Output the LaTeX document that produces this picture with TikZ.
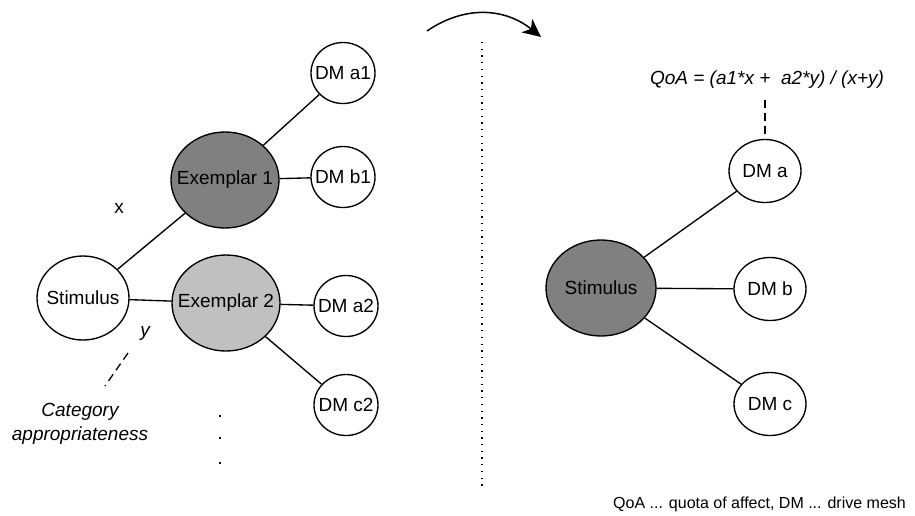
\documentclass[tikz,border=0pt]{standalone}
\usepackage{fontspec}
\setmainfont{Liberation Sans}
\usetikzlibrary{shapes.geometric,arrows.meta}

\definecolor{darkfill}{HTML}{808080}
\definecolor{lightfill}{HTML}{C0C0C0}

\tikzset{
  base/.style={font=\fontsize{19}{22}\selectfont},
  ell/.style={base, ellipse, draw=black, line width=1.35pt, fill=white, inner sep=0pt},
  dmsmall/.style={ell, minimum width=64pt, minimum height=61pt},
  dmbig/.style={ell, minimum width=72pt, minimum height=63pt},
  link/.style={line width=1.35pt},
  hint/.style={line width=1.3pt, dash pattern=on 8pt off 5pt},
  lbl/.style={base, inner sep=0pt},
  note/.style={font=\fontsize{16}{19}\selectfont, inner sep=0pt},
}

\newcommand{\ctr}[1]{\makebox[0pt]{#1}}

\begin{document}
\begin{tikzpicture}[x=1pt, y=-1pt]
  \useasboundingbox (0,0) rectangle (915,515);

  % ---------- left: stimulus and exemplars ----------
  \node[ell, minimum width=92pt, minimum height=84pt] (stimL) at (83,298) {\ctr{Stimulus}};
  \node[ell, fill=darkfill, minimum width=108pt, minimum height=96pt] (ex1) at (225,180) {\ctr{Exemplar 1}};
  \node[ell, fill=lightfill, minimum width=108pt, minimum height=96pt] (ex2) at (226,303) {\ctr{Exemplar 2}};

  \node[dmsmall] (dma1) at (343,73)  {\ctr{DM a1}};
  \node[dmsmall] (dmb1) at (343,177) {\ctr{DM b1}};
  \node[dmsmall] (dma2) at (346,306) {\ctr{DM a2}};
  \node[dmsmall] (dmc2) at (346,405) {\ctr{DM c2}};

  \draw[link] (stimL) -- (ex1);
  \draw[link] (stimL) -- (ex2);
  \draw[link] (ex1) -- (dma1);
  \draw[link] (ex1) -- (dmb1);
  \draw[link] (ex2) -- (dma2);
  \draw[link] (ex2) -- (dmc2);

  \node[lbl] (lx) at (119,208) {x};
  \node[lbl, font=\fontsize{19}{22}\selectfont\itshape] (ly) at (145,333) {y};

  \node[lbl, font=\fontsize{19}{22}\selectfont\itshape, align=center] (cat) at (80,424)
    {Category\\[2pt]appropriateness};
  \coordinate (catA) at (128,353);
  \coordinate (catB) at (105,386);
  \draw[hint] (catA) -- (catB);

  % continuation dots
  \foreach \yy in {416,438,463}
    \fill (218.8,\yy-1.2) rectangle (221.2,\yy+1.2);

  % ---------- separator and transition arrow ----------
  \coordinate (sepTop) at (482,42);
  \coordinate (sepBot) at (482,488);
  \draw[line width=1.1pt, dash pattern=on 1.3pt off 5.4pt] (sepTop) -- (sepBot);

  \coordinate (arrS) at (427,31);
  \coordinate (arrE) at (541,37);
  \draw[line width=1.5pt, -{Stealth[length=18pt, width=17pt, inset=5pt]}]
    (arrS) .. controls (465,5) and (505,8) .. (arrE);

  % ---------- right: stimulus and drive meshes ----------
  \node[ell, fill=darkfill, minimum width=110pt, minimum height=96pt] (stimR) at (601,288) {\ctr{Stimulus}};
  \node[dmbig] (dma) at (765,171) {\ctr{DM a}};
  \node[dmbig] (dmb) at (770,289) {\ctr{DM b}};
  \node[dmbig] (dmc) at (770,404) {\ctr{DM c}};

  \draw[link] (stimR) -- (dma);
  \draw[link] (stimR) -- (dmb);
  \draw[link] (stimR) -- (dmc);

  \node[lbl, font=\fontsize{19}{22}\selectfont\itshape] (qoa) at (767,80)
    {QoA = (a1*x + \ a2*y) / (x+y)};
  \coordinate (qoaEnd) at (765,100);
  \draw[hint] (qoaEnd) -- (dma.north);

  \node[note, anchor=east] (legend) at (906,504) {QoA ... quota of affect, DM ... drive mesh};
\end{tikzpicture}
\end{document}
